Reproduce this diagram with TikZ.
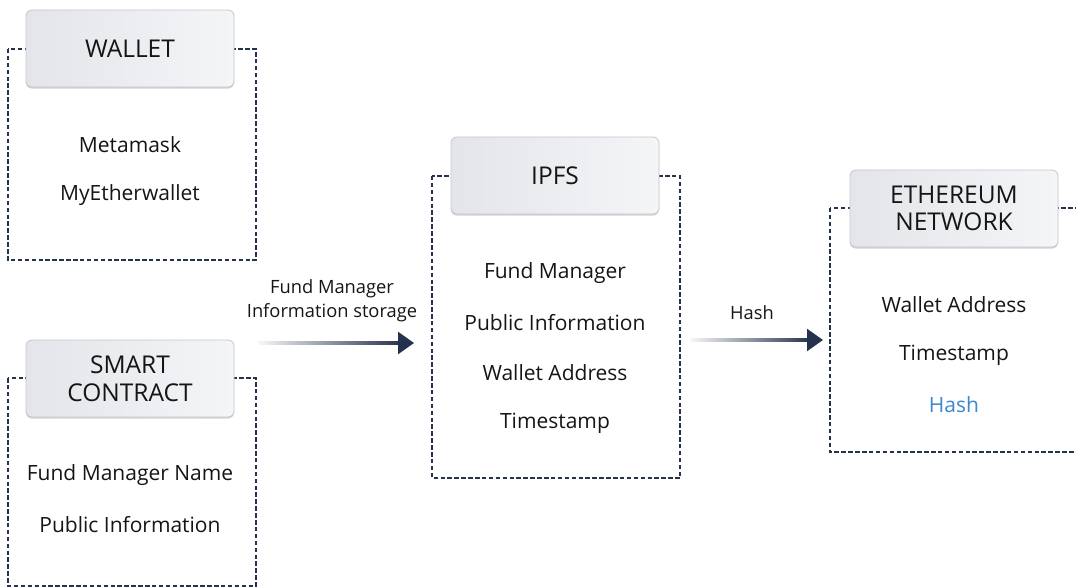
\documentclass[tikz,border=0pt]{standalone}
\usepackage{fontspec}
\setmainfont{Open Sans}
\usepackage{xcolor}
\usetikzlibrary{arrows.meta,shadows}
\definecolor{navy}{HTML}{25324D}
\definecolor{ink}{HTML}{151515}
\definecolor{hashblue}{HTML}{3B87D0}
\definecolor{hdrline}{HTML}{C4C6CC}
\definecolor{hdrleft}{HTML}{E4E5EA}
\definecolor{hdrright}{HTML}{F4F5F7}

\begin{document}
\begin{tikzpicture}[x=1pt,y=-1pt,
  header/.style={draw=hdrline, line width=0.8pt, rounded corners=6pt,
    left color=hdrleft, right color=hdrright,
    minimum width=208pt, minimum height=77pt, align=center, text=ink,
    font=\fontsize{24.5}{27.5}\selectfont,
    drop shadow={shadow xshift=0pt, shadow yshift=-1.6pt, opacity=0.35, fill=gray}},
  groupbox/.style={draw=navy, dash pattern=on 4.5pt off 2.4pt, line width=1.2pt},
  entry/.style={font=\fontsize{21}{24}\selectfont, text=ink},
  flowtext/.style={font=\fontsize{18.3}{24}\selectfont, align=center, text=ink},
  flowtip/.style={navy, line width=2.6pt, -{Triangle[length=16pt,width=22pt]}}]
  \useasboundingbox (0,0) rectangle (1076,588);

  % Left top: wallet
  \draw[groupbox] (8,49) rectangle (256,260);
  \node[header] (wallet) at (130,48.5) {WALLET};
  \node[entry] (metamask) at (130,145) {Metamask};
  \node[entry] (myether) at (130,195) {MyEtherwallet};

  % Left bottom: smart contract
  \draw[groupbox] (8,378) rectangle (256,586);
  \node[header] (contract) at (130,378.5) {SMART\\CONTRACT};
  \node[entry] (fmname) at (130,475) {Fund Manager Name};
  \node[entry] (pubinfo) at (130,525) {Public Information};

  % Middle: IPFS
  \draw[groupbox] (432,176) rectangle (680,478);
  \node[header] (ipfs) at (555,175.5) {IPFS};
  \node[entry] (ipfsfm) at (555,273) {Fund Manager};
  \node[entry] (ipfspub) at (555,323) {Public Information};
  \node[entry] (ipfsaddr) at (555,373) {Wallet Address};
  \node[entry] (ipfstime) at (555,423) {Timestamp};

  % Right: Ethereum network
  \draw[groupbox] (830,208) rectangle (1080,452);
  \node[header] (eth) at (954,208.5) {ETHEREUM\\NETWORK};
  \node[entry] (ethaddr) at (954,305) {Wallet Address};
  \node[entry] (ethtime) at (954,355) {Timestamp};
  \node[entry, text=hashblue] (ethhash) at (954,405) {Hash};

  % Arrows
  \coordinate (storefrom) at (258,343);
  \coordinate (storeto) at (414,343);
  \coordinate (hashfrom) at (690,340);
  \coordinate (hashto) at (823,340);
  \shade[left color=navy!4, right color=navy] ([yshift=1.3pt]storefrom) rectangle ([xshift=-12pt,yshift=-1.3pt]storeto);
  \draw[flowtip] ([xshift=-14pt]storeto) -- (storeto);
  \node[flowtext] (storetext) at (332,301) {Fund Manager\\Information storage};
  \shade[left color=navy!4, right color=navy] ([yshift=1.3pt]hashfrom) rectangle ([xshift=-12pt,yshift=-1.3pt]hashto);
  \draw[flowtip] ([xshift=-14pt]hashto) -- (hashto);
  \node[flowtext] (hashtext) at (752,313) {Hash};
\end{tikzpicture}
\end{document}
